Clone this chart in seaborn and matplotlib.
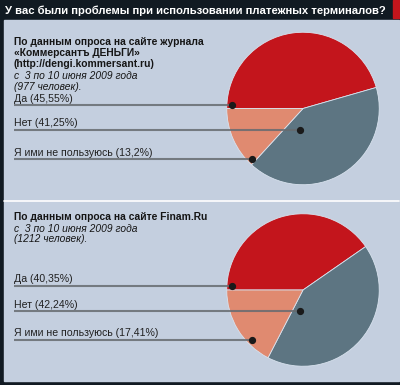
import numpy as np
import matplotlib
matplotlib.use("Agg")
import matplotlib.pyplot as plt
import seaborn as sns

# data
title = "У вас были проблемы при использовании платежных терминалов?"
answers = ["Да", "Нет", "Я ими не пользуюсь"]
kommersant_values = [45.55, 41.25, 13.2]
kommersant_labels = ["45,55%", "41,25%", "13,2%"]
kommersant_bold = ["По данным опроса на сайте журнала",
                   "«Коммерсантъ ДЕНЬГИ»",
                   "(http://dengi.kommersant.ru)"]
kommersant_italic = ["с  3 по 10 июня 2009 года", "(977 человек)."]
finam_values = [40.35, 42.24, 17.41]
finam_labels = ["40,35%", "42,24%", "17,41%"]
finam_bold = ["По данным опроса на сайте Finam.Ru"]
finam_italic = ["с  3 по 10 июня 2009 года", "(1212 человек)."]

slice_colors = ["#c3151c", "#5d7582", "#e08a70"]
dark = "#111a22"
panel = "#c4cfdf"

sns.set_style("white")
plt.rcParams['font.family'] = ['Liberation Sans', 'DejaVu Sans']

W, H = 400, 385
fig = plt.figure(figsize=(W / 100, H / 100), dpi=100)
fig.patch.set_facecolor(dark)

# background / frame axis in pixel coords
bg = fig.add_axes([0, 0, 1, 1])
bg.set_xlim(0, W)
bg.set_ylim(H, 0)
bg.axis("off")
bg.add_patch(plt.Rectangle((4, 20), W - 5, 361, color=panel, zorder=0))
bg.add_patch(plt.Rectangle((393, 0), 7, 18, color="#c3151c", zorder=1))
bg.plot([4, W - 1], [200.5, 200.5], color="white", lw=1.2, zorder=1)
bg.text(5, 10.5, title, color="white", fontsize=8.1, fontweight="bold",
        va="center", ha="left")

R = 77
pies = [
    dict(cy=108.5, values=kommersant_values, labels=kommersant_labels,
         bold=kommersant_bold, italic=kommersant_italic, text_y=42,
         label_y=[105, 130, 159]),
    dict(cy=290, values=finam_values, labels=finam_labels,
         bold=finam_bold, italic=finam_italic, text_y=217,
         label_y=[286, 311, 340]),
]
cx = 303
# where the pointer dots sit inside each pie (unit radius)
dot_x = [-0.92, -0.04, -0.66]

ov = fig.add_axes([0, 0, 1, 1], zorder=5)
ov.set_xlim(0, W)
ov.set_ylim(H, 0)
ov.axis("off")
ov.patch.set_alpha(0)

for p in pies:
    ax = fig.add_axes([(cx - R) / W, 1 - (p["cy"] + R) / H, 2 * R / W, 2 * R / H])
    ax.pie(p["values"], colors=slice_colors, startangle=180, counterclock=False,
           wedgeprops=dict(linewidth=0.6, edgecolor="#d8e2ee"), radius=1)
    ax.set_xlim(-1.01, 1.01)
    ax.set_ylim(-1.01, 1.01)
    ax.set_aspect("equal")
    ax.axis("off")

    y = p["text_y"]
    for line in p["bold"]:
        ov.text(14, y, line, fontsize=7.4, fontweight="bold", color="#151515", va="center")
        y += 11
    for line in p["italic"]:
        ov.text(14, y + 1, line, fontsize=7.4, style="italic", color="#151515", va="center")
        y += 10.5

    for ans, lab, ly, dx in zip(answers, p["labels"], p["label_y"], dot_x):
        px = cx + dx * R
        ov.plot([14, px], [ly, ly], color="#666b70", lw=1.5, alpha=0.85,
                solid_capstyle="butt")
        ov.plot(px, ly, "o", color="#1a1a1a", ms=4.2)
        ov.text(14, ly - 1.5, f"{ans} ({lab})", fontsize=7.6, color="#202020",
                va="bottom")

fig.savefig("out.png", dpi=100, facecolor=fig.get_facecolor())
